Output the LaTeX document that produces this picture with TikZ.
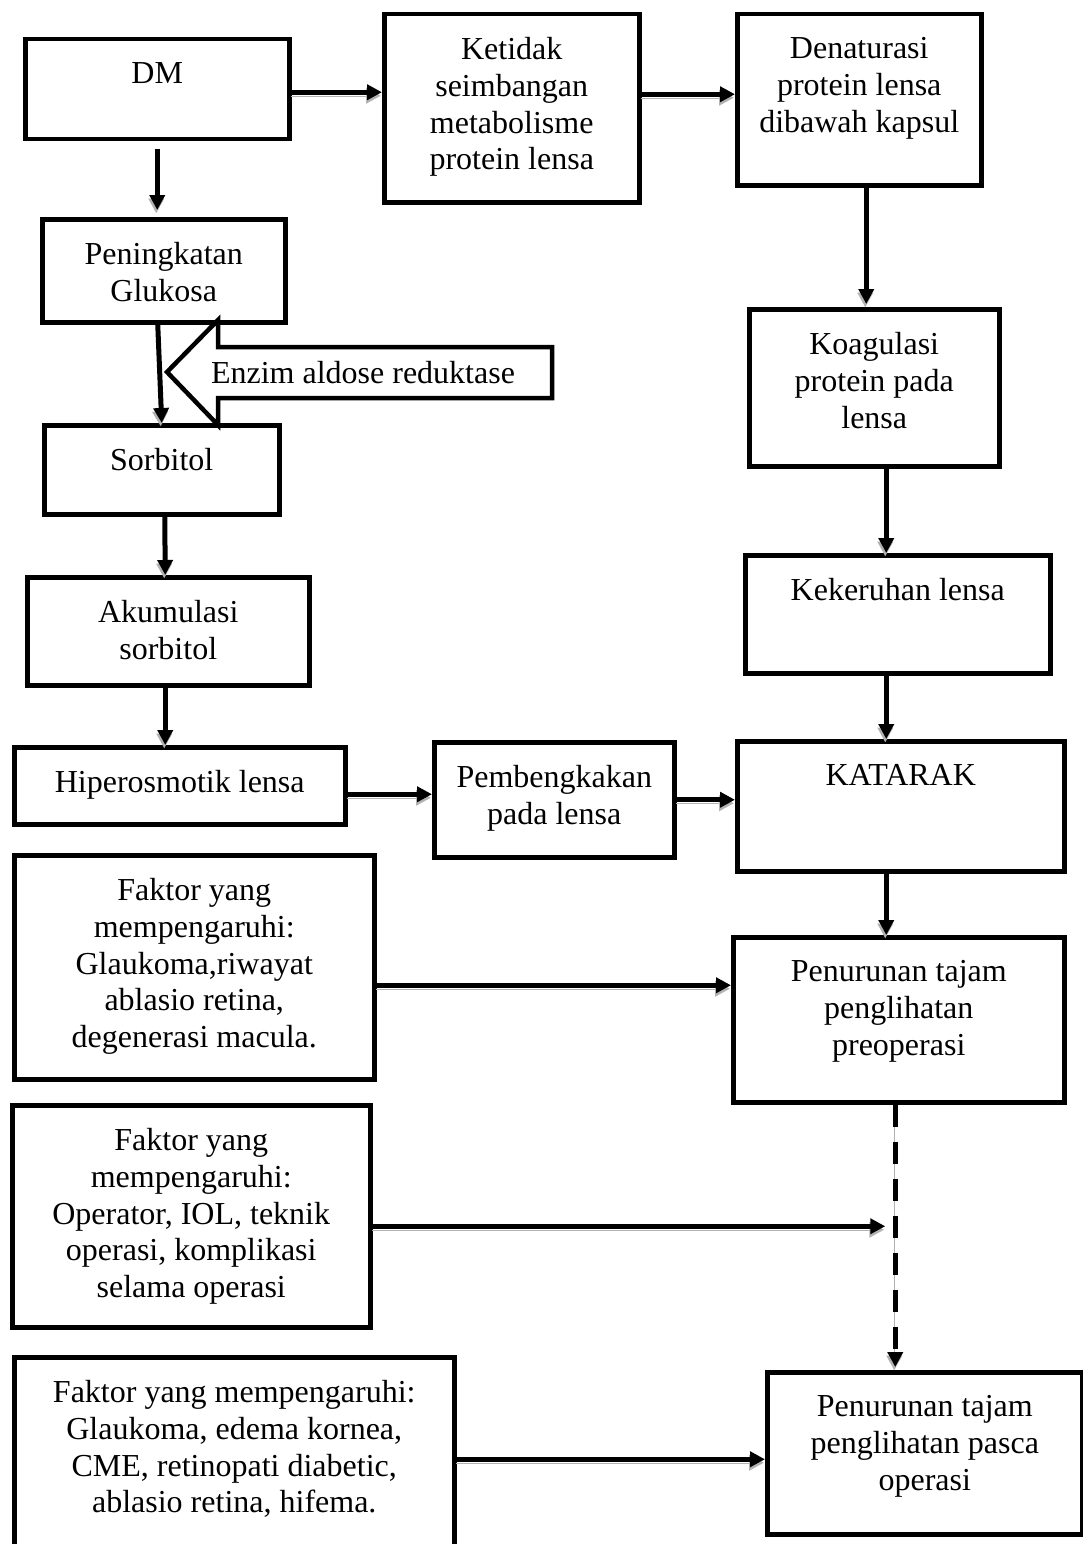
\documentclass[tikz,border=0pt]{standalone}
\usepackage{fontspec}
\setmainfont{Liberation Serif}
\usetikzlibrary{arrows.meta}
\newcommand{\boxtext}[3]{\parbox[c][#2pt][t]{#1pt}{\centering\vspace*{23pt}#3\par}}
\tikzset{
  box/.style={draw, line width=4.5pt, inner sep=0pt, anchor=north west},
  flow/.style={line width=5pt, -{Triangle[length=15pt,width=15pt]},
    preaction={draw=gray!60, transform canvas={xshift=-1pt,yshift=-3.5pt}}},
  dashflow/.style={flow, dash pattern=on 22pt off 15pt}
}
\begin{document}
\begin{tikzpicture}[x=1pt, y=-1pt, font=\fontsize{32}{36.8}\selectfont]
    \useasboundingbox (0,0) rectangle (1082,1544);
    % left column
    \node[box] (dm) at (23,37) {\boxtext{264}{100}{DM}};
    \node[box] (pening) at (40,217) {\boxtext{243}{103}{Peningkatan\\Glukosa}};
    \node[box] (sorb) at (42,423) {\boxtext{235}{89}{Sorbitol}};
    \node[box] (akum) at (25,575) {\boxtext{282}{108}{Akumulasi\\sorbitol}};
    \node[box] (hiper) at (12,745) {\boxtext{331}{77}{Hiperosmotik lensa}};
    \node[box] (pemb) at (432,740) {\boxtext{240}{115}{Pembengkakan\\pada lensa}};
    % right column
    \node[box] (ketidak) at (382,12) {\boxtext{255}{188}{Ketidak\\seimbangan\\metabolisme\\protein lensa}};
    \node[box] (denat) at (735,12) {\boxtext{244}{171}{Denaturasi\\protein lensa\\dibawah kapsul}};
    \node[box] (koag) at (747,307) {\boxtext{250}{157}{Koagulasi\\protein pada\\lensa}};
    \node[box] (keker) at (743,553) {\boxtext{305}{118}{Kekeruhan lensa}};
    \node[box] (katarak) at (735,739) {\boxtext{327}{130}{KATARAK}};
    \node[box] (preop) at (731,935) {\boxtext{331}{165}{Penurunan tajam\\penglihatan\\preoperasi}};
    \node[box] (pasca) at (765,1370) {\boxtext{315}{162}{Penurunan tajam\\penglihatan pasca\\operasi}};
    % faktor boxes
    \node[box] (faktor1) at (12,853) {\boxtext{360}{224}{Faktor yang\\mempengaruhi:\\Glaukoma,riwayat\\ablasio retina,\\degenerasi macula.}};
    \node[box] (faktor2) at (10,1103) {\boxtext{358}{222}{Faktor yang\\mempengaruhi:\\Operator, IOL, teknik\\operasi, komplikasi\\selama operasi}};
    \node[box] (faktor3) at (12,1355) {\boxtext{440}{195}{Faktor yang mempengaruhi:\\Glaukoma, edema kornea,\\CME, retinopati diabetic,\\ablasio retina, hifema.}};
    % enzyme block arrow
    \draw[line width=4.5pt, fill=white] (552,347) -- (218,347) -- (218,320) -- (167,372)
        -- (218,425) -- (218,398) -- (552,398) -- cycle;
    \node (enzim) at (363,373) {Enzim aldose reduktase};
    % connectors
    \draw[flow] ([yshift=-3pt]dm.east) -- ([yshift=-3pt]dm.east -| ketidak.west);
    \draw[flow] ([yshift=14pt]ketidak.east) -- ([yshift=14pt]ketidak.east -| denat.west);
    \draw[flow, shorten <=7pt, shorten >=7pt] (dm.south) -- (dm.south |- pening.north);
    \draw[flow] ([xshift=-6pt]pening.south) -- (sorb.north);
    \draw[flow] ([xshift=3pt]sorb.south) -- ([xshift=-3pt]akum.north);
    \draw[flow] ([xshift=-3pt]akum.south) -- ([xshift=-14.5pt]hiper.north);
    \draw[flow] ([yshift=-8.5pt]hiper.east) -- ([yshift=-8.5pt]hiper.east -| pemb.west);
    \draw[flow] (pemb.east) -- (pemb.east -| katarak.west);
    \draw[flow, shorten >=3pt] ([xshift=7pt]denat.south) -- ([xshift=7pt]denat.south |- koag.north);
    \draw[flow] ([xshift=12pt]koag.south) -- ([xshift=12pt]koag.south |- keker.north);
    \draw[flow] ([xshift=-11.5pt]keker.south) -- ([xshift=-11.5pt]keker.south |- katarak.north);
    \draw[flow] ([xshift=-14.5pt]katarak.south) -- ([xshift=-14.5pt]katarak.south |- preop.north);
    \draw[flow] ([yshift=-18pt]faktor1.east) -- ([yshift=-18pt]faktor1.east -| preop.west);
    \coordinate (dline) at ([xshift=-3.5pt]preop.south);
    \draw[dashflow, shorten >=3pt] (dline) -- (dline |- pasca.north);
    \draw[flow, shorten >=10pt] ([yshift=-10pt]faktor2.east) -- ([yshift=-10pt]faktor2.east -| dline);
    \draw[flow] ([yshift=-4.5pt]faktor3.east) -- ([yshift=-4.5pt]faktor3.east -| pasca.west);
\end{tikzpicture}
\end{document}
